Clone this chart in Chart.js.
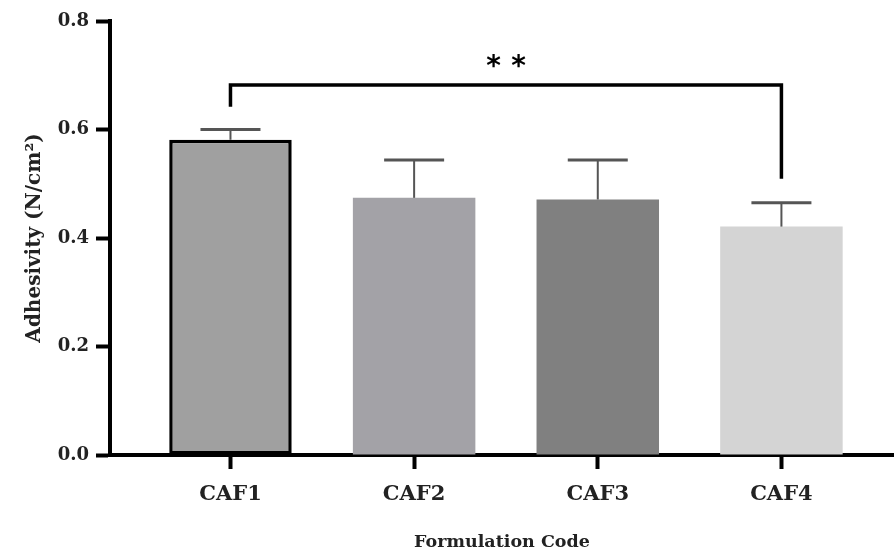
<!DOCTYPE html>
<html>
<head>
    <meta charset="utf-8" />
    <title>Adhesivity</title>
    <script src="https://cdn.jsdelivr.net/npm/chart.js@4"></script>
    <style>
        html, body { margin: 0; padding: 0; background: #fff; }
        #wrap { width: 894px; height: 551px; }
    </style>
</head>
<body>
    <div id="wrap"><canvas id="grafico"></canvas></div>
    <script>
        // datos
        var categories = ['CAF1', 'CAF2', 'CAF3', 'CAF4'];
        var meanValues = [0.581, 0.474, 0.471, 0.421];
        var sdValues = [0.019, 0.070, 0.073, 0.044];
        var barColors = ['#a0a0a0', '#a3a2a7', '#808080', '#d4d4d4'];
        var yTicks = [0, 0.2, 0.4, 0.6, 0.8];

        // comparacion significativa CAF1 vs CAF4
        var bracketPair = [0, 3];
        var bracketLevel = 0.682;
        var bracketLegEnds = [0.642, 0.509];
        var bracketLabel = ['*', '*'];

        var serif = "'DejaVu Serif', serif";

        var errorBarsPlugin = {
            id: 'errorBars',
            afterDatasetsDraw: function (chart) {
                var ctx = chart.ctx;
                var y = chart.scales.y;
                var x = chart.scales.x;
                ctx.save();
                // barras de error (solo hacia arriba)
                ctx.strokeStyle = '#555';
                ctx.lineCap = 'butt';
                for (var i = 0; i < meanValues.length; i++) {
                    var cx = x.getPixelForValue(i);
                    var y0 = y.getPixelForValue(meanValues[i]);
                    var y1 = y.getPixelForValue(meanValues[i] + sdValues[i]);
                    ctx.lineWidth = 2;
                    ctx.beginPath();
                    ctx.moveTo(cx, y0);
                    ctx.lineTo(cx, y1);
                    ctx.stroke();
                    ctx.lineWidth = 3;
                    ctx.beginPath();
                    ctx.moveTo(cx - 30, y1);
                    ctx.lineTo(cx + 30, y1);
                    ctx.stroke();
                }
                // corchete
                var xa = x.getPixelForValue(bracketPair[0]);
                var xb = x.getPixelForValue(bracketPair[1]);
                var yl = y.getPixelForValue(bracketLevel);
                ctx.strokeStyle = '#000';
                ctx.lineWidth = 3.5;
                ctx.lineJoin = 'miter';
                ctx.beginPath();
                ctx.moveTo(xa, y.getPixelForValue(bracketLegEnds[0]));
                ctx.lineTo(xa, yl);
                ctx.lineTo(xb, yl);
                ctx.lineTo(xb, y.getPixelForValue(bracketLegEnds[1]));
                ctx.stroke();
                // asteriscos
                var mid = (xa + xb) / 2;
                ctx.fillStyle = '#000';
                ctx.font = "bold 28px 'DejaVu Sans'";
                ctx.textAlign = 'center';
                ctx.textBaseline = 'alphabetic';
                ctx.fillText(bracketLabel[0], mid - 12.5, yl - 10);
                ctx.fillText(bracketLabel[1], mid + 12.5, yl - 10);
                ctx.restore();
            }
        };

        var ctx1 = document.getElementById('grafico').getContext('2d');
        var myChart = new Chart(ctx1, {
            type: 'bar',
            data: {
                datasets: [{
                    data: categories.map(function (c, i) { return { x: i, y: meanValues[i] }; }),
                    backgroundColor: barColors,
                    borderColor: '#000',
                    borderWidth: [3.5, 0, 0, 0],
                    borderSkipped: false,
                    barPercentage: 0.667,
                    categoryPercentage: 1
                }]
            },
            options: {
                responsive: true,
                maintainAspectRatio: false,
                animation: false,
                layout: { padding: { top: 21, right: 0, bottom: 0, left: 0 } },
                plugins: {
                    legend: { display: false },
                    tooltip: { enabled: false }
                },
                scales: {
                    x: {
                        type: 'linear',
                        offset: false,
                        min: -0.656,
                        max: 3.613,
                        afterBuildTicks: function (scale) {
                            scale.ticks = categories.map(function (c, i) { return { value: i }; });
                        },
                        afterFit: function (scale) { scale.height = 96; },
                        grid: {
                            offset: false,
                            drawOnChartArea: false,
                            tickLength: 14,
                            tickWidth: 4,
                            tickColor: '#000'
                        },
                        border: { color: '#000', width: 4 },
                        ticks: {
                            padding: 13,
                            color: '#222',
                            font: { family: serif, size: 21, weight: 'bold' },
                            callback: function (v) { return categories[v]; }
                        },
                        title: {
                            display: true,
                            text: 'Formulation Code',
                            color: '#222',
                            padding: { top: 0, bottom: 0 },
                            font: { family: serif, size: 17.5, weight: 'bold', lineHeight: 1 }
                        }
                    },
                    y: {
                        min: 0,
                        max: 0.8,
                        afterBuildTicks: function (scale) {
                            scale.ticks = yTicks.map(function (v) { return { value: v }; });
                        },
                        afterFit: function (scale) { scale.width = 110; },
                        grid: {
                            drawOnChartArea: false,
                            tickLength: 14,
                            tickWidth: 4,
                            tickColor: '#000'
                        },
                        border: { color: '#000', width: 4 },
                        ticks: {
                            padding: 7,
                            color: '#222',
                            font: { family: serif, size: 18, weight: 'bold' },
                            callback: function (v) { return v.toFixed(1); }
                        },
                        title: {
                            display: true,
                            text: 'Adhesivity (N/cm²)',
                            color: '#222',
                            padding: { top: 23, bottom: 0 },
                            font: { family: serif, size: 20, weight: 'bold' }
                        }
                    }
                }
            },
            plugins: [errorBarsPlugin]
        });
    </script>
</body>
</html>
